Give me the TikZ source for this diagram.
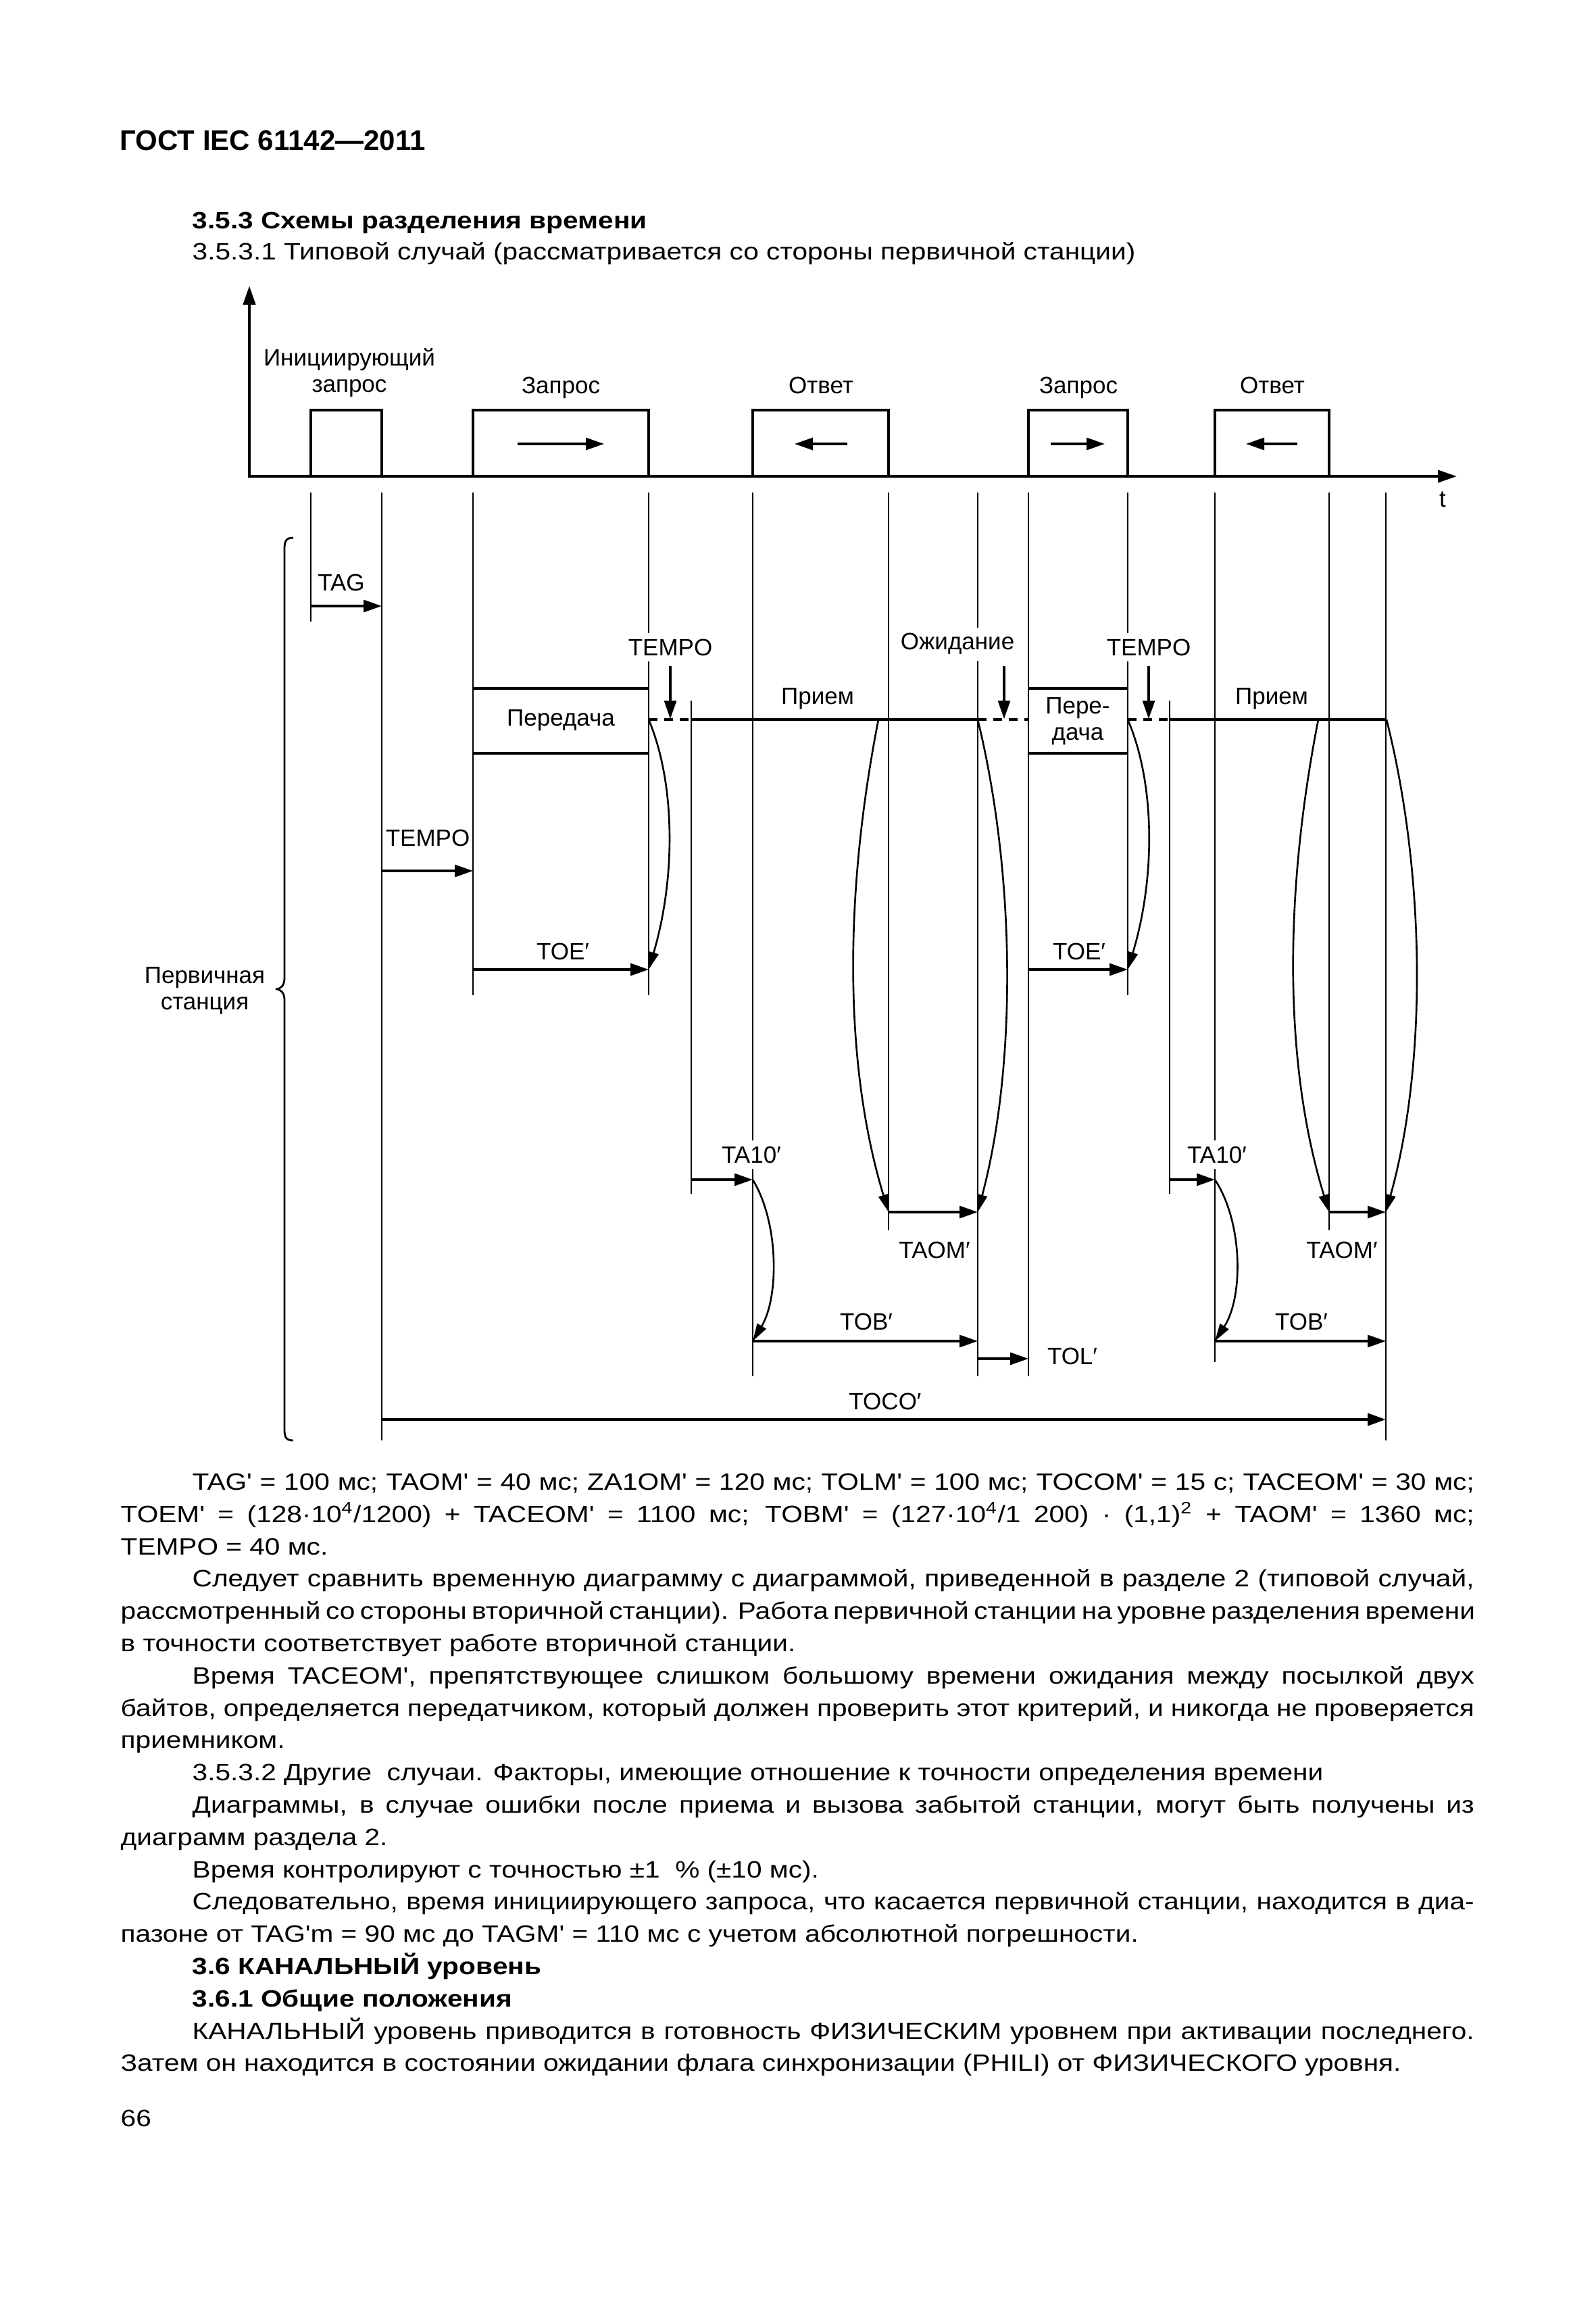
\documentclass[tikz,border=0pt]{standalone}
\usepackage{fontspec}
\setmainfont{Liberation Sans}
\newfontfamily\lsans{Liberation Sans}
\newfontfamily\bodyfont{Liberation Sans}[FakeStretch=1.16]
\usetikzlibrary{arrows.meta}

\begin{document}
\begin{tikzpicture}[
  lbl/.style={font=\lsans\fontsize{9.96pt}{11.1pt}\selectfont,inner sep=0pt,align=center},
  wlbl/.style={lbl,fill=white,inner sep=2.5pt},
  txt/.style={anchor=base west,inner sep=0pt,font=\bodyfont\fontsize{9.96pt}{13.6pt}\selectfont},
  vline/.style={line width=0.7pt},
  pulse/.style={line width=0.9pt},
  rxline/.style={line width=1pt},
  gapline/.style={line width=1pt,dash pattern=on 0.13cm off 0.10cm},
  tarr/.style={line width=0.9pt,-{Triangle[length=0.27cm,width=0.18cm]}},
  crv/.style={line width=0.75pt,-{Triangle[length=0.26cm,width=0.15cm]}}
]
\useasboundingbox[fill=white] (0,0) rectangle (23.62,-34.25);

\node[anchor=base west,inner sep=0pt,font=\lsans\bfseries\fontsize{11.95pt}{14pt}\selectfont] (head) at (1.77,-2.22) {ГОСТ IEC 61142—2011};
\node[txt,font=\bodyfont\bfseries\fontsize{9.96pt}{13.6pt}\selectfont] (sect) at (2.84,-3.38) {3.5.3 Схемы разделения времени};
\node[txt] (subsect) at (2.84,-3.84) {3.5.3.1 Типовой случай (рассматривается со стороны первичной станции)};

\draw[line width=1.2pt,{Triangle[length=0.28cm,width=0.18cm]}-{Triangle[length=0.28cm,width=0.18cm]}] (3.69,-4.23) -- (3.69,-7.05) -- (21.56,-7.05);
\node[lbl] (taxis) at (21.35,-7.39) {t};

\draw[pulse] (4.60,-7.05) |- (5.65,-6.07) -- (5.65,-7.05);
\draw[pulse] (7.00,-7.05) |- (9.60,-6.07) -- (9.60,-7.05);
\draw[pulse] (11.14,-7.05) |- (13.15,-6.07) -- (13.15,-7.05);
\draw[pulse] (15.22,-7.05) |- (16.69,-6.07) -- (16.69,-7.05);
\draw[pulse] (17.98,-7.05) |- (19.67,-6.07) -- (19.67,-7.05);
\draw[tarr] (7.66,-6.57) -- (8.94,-6.57);
\draw[tarr] (12.54,-6.57) -- (11.76,-6.57);
\draw[tarr] (15.55,-6.57) -- (16.35,-6.57);
\draw[tarr] (19.20,-6.57) -- (18.44,-6.57);
\node[lbl] (init) at (5.17,-5.52) {Инициирующий\\запрос};
\node[lbl,anchor=base] (req1) at (8.30,-5.82) {Запрос};
\node[lbl,anchor=base] (ans1) at (12.15,-5.82) {Ответ};
\node[lbl,anchor=base] (req2) at (15.96,-5.82) {Запрос};
\node[lbl,anchor=base] (ans2) at (18.83,-5.82) {Ответ};

\draw[vline] (4.60,-7.29) -- (4.60,-9.20);
\draw[vline] (5.65,-7.29) -- (5.65,-21.32);
\draw[vline] (7.00,-7.29) -- (7.00,-14.73);
\draw[vline] (9.60,-7.29) -- (9.60,-14.73);
\draw[vline] (11.14,-7.29) -- (11.14,-20.37);
\draw[vline] (13.15,-7.29) -- (13.15,-18.21);
\draw[vline] (14.47,-7.29) -- (14.47,-20.37);
\draw[vline] (15.22,-7.29) -- (15.22,-20.37);
\draw[vline] (16.69,-7.29) -- (16.69,-14.73);
\draw[vline] (17.98,-7.29) -- (17.98,-20.16);
\draw[vline] (19.67,-7.29) -- (19.67,-18.21);
\draw[vline] (20.51,-7.29) -- (20.51,-21.32);
\draw[vline] (10.23,-10.37) -- (10.23,-17.67);
\draw[vline] (17.31,-10.37) -- (17.31,-17.67);

\draw[pulse] (7.00,-10.19) -- (9.60,-10.19) (7.00,-11.15) -- (9.60,-11.15);
\draw[pulse] (15.22,-10.19) -- (16.69,-10.19) (15.22,-11.15) -- (16.69,-11.15);
\node[lbl] (tx1) at (8.30,-10.66) {Передача};
\node[lbl] (tx2) at (15.95,-10.67) {Пере-\\дача};
\draw[gapline] (9.60,-10.65) -- (10.23,-10.65);
\draw[rxline] (10.23,-10.65) -- (14.47,-10.65);
\draw[gapline] (14.47,-10.65) -- (15.22,-10.65);
\draw[gapline] (16.69,-10.65) -- (17.31,-10.65);
\draw[rxline] (17.31,-10.65) -- (20.52,-10.65);
\node[lbl] (rx1) at (12.10,-10.34) {Прием};
\node[lbl] (rx2) at (18.82,-10.34) {Прием};

\draw[tarr] (9.92,-9.86) -- (9.92,-10.64);
\draw[tarr] (14.86,-9.86) -- (14.86,-10.64);
\draw[tarr] (17.00,-9.86) -- (17.00,-10.64);
\node[wlbl] (tempo1) at (9.92,-9.58) {TEMPO};
\node[wlbl] (wait) at (14.17,-9.53) {Ожидание};
\node[wlbl] (tempo2) at (17.00,-9.58) {TEMPO};

\draw[crv] (9.60,-10.65) .. controls (10.00,-11.60) and (10.00,-13.00) .. (9.60,-14.35);
\draw[crv] (16.69,-10.65) .. controls (17.10,-11.60) and (17.10,-13.00) .. (16.69,-14.35);
\draw[crv] (13.00,-10.65) .. controls (12.48,-13.30) and (12.50,-15.80) .. (13.15,-17.94);
\draw[crv] (14.47,-10.65) .. controls (15.04,-13.00) and (15.04,-15.80) .. (14.47,-17.94);
\draw[crv] (19.51,-10.65) .. controls (18.99,-13.30) and (19.01,-15.80) .. (19.67,-17.94);
\draw[crv] (20.52,-10.65) .. controls (21.11,-13.00) and (21.11,-15.80) .. (20.51,-17.94);
\draw[crv] (11.14,-17.46) .. controls (11.53,-18.10) and (11.53,-19.20) .. (11.14,-19.85);
\draw[crv] (17.98,-17.46) .. controls (18.40,-18.10) and (18.40,-19.20) .. (17.98,-19.85);

\draw[tarr] (4.60,-8.97) -- (5.65,-8.97);
\node[lbl] (tag) at (5.05,-8.62) {TAG};
\draw[tarr] (5.65,-12.89) -- (7.00,-12.89);
\node[lbl] (tempo0) at (6.33,-12.40) {TEMPO};
\draw[tarr] (7.00,-14.35) -- (9.60,-14.35);
\node[lbl] (toe1) at (8.33,-14.08) {TOE′};
\draw[tarr] (15.22,-14.35) -- (16.69,-14.35);
\node[lbl] (toe2) at (15.97,-14.08) {TOE′};
\draw[tarr] (10.23,-17.46) -- (11.14,-17.46);
\node[wlbl] (ta1) at (11.12,-17.09) {TA10′};
\draw[tarr] (17.31,-17.46) -- (17.98,-17.46);
\node[wlbl] (ta2) at (18.01,-17.09) {TA10′};
\draw[tarr] (13.15,-17.94) -- (14.47,-17.94);
\node[lbl] (taom1) at (13.83,-18.50) {TAOM′};
\draw[tarr] (19.67,-17.94) -- (20.51,-17.94);
\node[lbl] (taom2) at (19.86,-18.50) {TAOM′};
\draw[tarr] (11.14,-19.85) -- (14.47,-19.85);
\node[lbl] (tob1) at (12.82,-19.56) {TOB′};
\draw[tarr] (17.98,-19.85) -- (20.51,-19.85);
\node[lbl] (tob2) at (19.26,-19.56) {TOB′};
\draw[tarr] (14.47,-20.11) -- (15.22,-20.11);
\node[lbl] (tol) at (15.87,-20.07) {TOL′};
\draw[tarr,line width=1.2pt] (5.65,-21.01) -- (20.51,-21.01);
\node[lbl] (toco) at (13.10,-20.74) {TOCO′};

\draw[line width=0.8pt] (4.34,-7.96) .. controls (4.24,-7.96) and (4.21,-8.00) .. (4.21,-8.12) -- (4.21,-14.48) .. controls (4.21,-14.58) and (4.16,-14.64) .. (4.08,-14.64) .. controls (4.16,-14.64) and (4.21,-14.70) .. (4.21,-14.80) -- (4.21,-21.16) .. controls (4.21,-21.28) and (4.24,-21.32) .. (4.34,-21.32);
\node[lbl] (prim) at (3.03,-14.66) {Первичная\\станция};

\node[txt] (l00) at (2.84,-22.05) {\makebox[18.97cm][s]{TAG' = 100 мс; TAOM' = 40 мс; ZA1OM' = 120 мс; TOLM' = 100 мс; TOCOM' = 15 с; TACEOM' = 30 мс;}};
\node[txt] (l01) at (1.78,-22.53) {\makebox[20.03cm][s]{TOEM' = (128·10\textsuperscript{4}/1200) + TACEOM' = 1100 мс; TOBM' = (127·10\textsuperscript{4}/1 200) · (1,1)\textsuperscript{2} + TAOM' = 1360 мс;}};
\node[txt] (l02) at (1.78,-23.01) {TEMPO = 40 мс.};
\node[txt] (l03) at (2.84,-23.48) {\makebox[18.97cm][s]{Следует сравнить временную диаграмму с диаграммой, приведенной в разделе 2 (типовой случай,}};
\node[txt] (l04) at (1.78,-23.96) {\makebox[20.03cm][s]{рассмотренный со стороны вторичной станции). Работа первичной станции на уровне разделения времени}};
\node[txt] (l05) at (1.78,-24.44) {в точности соответствует работе вторичной станции.};
\node[txt] (l06) at (2.84,-24.92) {\makebox[18.97cm][s]{Время TACEOM', препятствующее слишком большому времени ожидания между посылкой двух}};
\node[txt] (l07) at (1.78,-25.40) {\makebox[20.03cm][s]{байтов, определяется передатчиком, который должен проверить этот критерий, и никогда не проверяется}};
\node[txt] (l08) at (1.78,-25.87) {приемником.};
\node[txt] (l09) at (2.84,-26.35) {3.5.3.2 Другие\ \ случаи. Факторы, имеющие отношение к точности определения времени};
\node[txt] (l10) at (2.84,-26.83) {\makebox[18.97cm][s]{Диаграммы, в случае ошибки после приема и вызова забытой станции, могут быть получены из}};
\node[txt] (l11) at (1.78,-27.31) {диаграмм раздела 2.};
\node[txt] (l12) at (2.84,-27.79) {Время контролируют с точностью ±1\ \ \% (±10 мс).};
\node[txt] (l13) at (2.84,-28.26) {\makebox[18.97cm][s]{Следовательно, время инициирующего запроса, что касается первичной станции, находится в диа-}};
\node[txt] (l14) at (1.78,-28.74) {пазоне от TAG'm = 90 мс до TAGM' = 110 мс с учетом абсолютной погрешности.};
\node[txt,font=\bodyfont\bfseries\fontsize{9.96pt}{13.6pt}\selectfont] (l15) at (2.84,-29.22) {3.6 КАНАЛЬНЫЙ уровень};
\node[txt,font=\bodyfont\bfseries\fontsize{9.96pt}{13.6pt}\selectfont] (l16) at (2.84,-29.70) {3.6.1 Общие положения};
\node[txt] (l17) at (2.84,-30.18) {\makebox[18.97cm][s]{КАНАЛЬНЫЙ уровень приводится в готовность ФИЗИЧЕСКИМ уровнем при активации последнего.}};
\node[txt] (l18) at (1.78,-30.65) {Затем он находится в состоянии ожидании флага синхронизации (PHILI) от ФИЗИЧЕСКОГО уровня.};
\node[txt] (pageno) at (1.78,-31.47) {66};
\end{tikzpicture}
\end{document}
